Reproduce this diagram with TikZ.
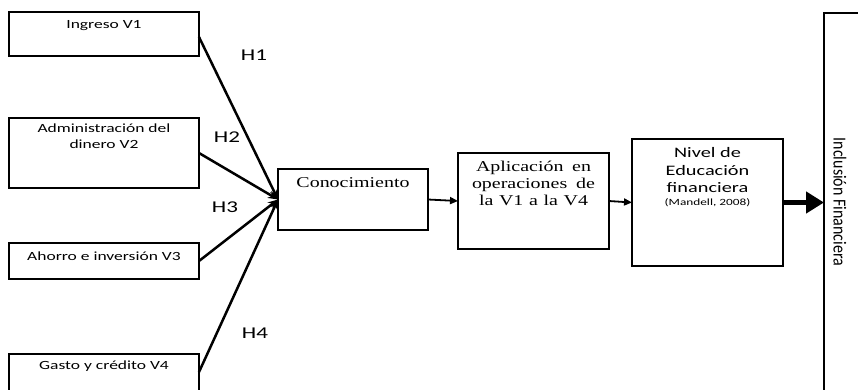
\documentclass[tikz,border=0pt]{standalone}
\usepackage{fontspec}
\setmainfont{Carlito}
\newfontfamily\sansw[FakeStretch=1.4]{Carlito}
\newfontfamily\serifw[FakeStretch=1.33]{Liberation Serif}
\usetikzlibrary{arrows.meta}
\begin{document}
\begin{tikzpicture}[x=1pt,y=-1pt,
  bx/.style={draw,line width=2.6pt,inner sep=0pt,outer sep=0pt,rectangle},
  sl/.style={font=\sansw\fontsize{12.5}{15}\selectfont,anchor=base,inner sep=0pt},
  hl/.style={font=\sansw\fontsize{16.5}{19}\selectfont,inner sep=0pt},
  tl/.style={font=\serifw\fontsize{15}{17}\selectfont,anchor=base,inner sep=0pt},
  nl/.style={font=\sansw\fontsize{14.5}{17}\selectfont,anchor=base,inner sep=0pt},
  hyp/.style={line width=2.5pt,-{Stealth[length=10pt,width=8pt]}},
  ar/.style={line width=1.8pt,-{Triangle[length=8pt,width=7pt]}},
  bigar/.style={line width=4.8pt,-{Triangle[length=18pt,width=21pt]}}]
\path[use as bounding box] (0,0) rectangle (858,389);
\clip (0,0) rectangle (858,389);
\fill[white] (0,0) rectangle (858,389);
% boxes
\node[bx,minimum width=190pt,minimum height=44pt] (ing) at (104,34) {};
\node[bx,minimum width=190pt,minimum height=70pt] (adm) at (104,153) {};
\node[bx,minimum width=190pt,minimum height=36pt] (aho) at (104,261) {};
\node[bx,minimum width=190pt,minimum height=40pt] (gas) at (104,374) {};
\node[bx,minimum width=150pt,minimum height=61pt] (con) at (353,199.5) {};
\node[bx,minimum width=151pt,minimum height=96pt] (apl) at (533.5,201) {};
\node[bx,minimum width=151pt,minimum height=127pt] (niv) at (707.5,202.5) {};
\node[bx,minimum width=76pt,minimum height=407pt] (inc) at (862,216.5) {};
% texts
\node[sl] (tIng) at (104,28) {Ingreso V1};
\node[sl] (tAdm1) at (104,132) {Administración del};
\node[sl] (tAdm2) at (104,148) {dinero V2};
\node[sl] (tAho) at (104,260) {Ahorro e inversión V3};
\node[sl] (tGas) at (104,369) {Gasto y crédito V4};
\node[tl] (tCon) at (353,187) {Conocimiento};
\node[tl] (tApl1) at (533.5,171) {\makebox[115pt][s]{Aplicación en}};
\node[tl] (tApl2) at (533.5,188) {\makebox[123pt][s]{operaciones de}};
\node[tl] (tApl3) at (533.5,205) {\makebox[109pt][s]{la V1 a la V4}};
\node[nl] (tNiv1) at (707.5,157) {Nivel de};
\node[nl] (tNiv2) at (707.5,175) {Educación};
\node[nl] (tNiv3) at (707.5,192) {financiera};
\node[font=\sansw\fontsize{9.5}{11}\selectfont,anchor=base,inner sep=0pt] (tMan) at (707.5,205) {(Mandell, 2008)};
\node[rotate=-90,font=\fontsize{16}{19}\selectfont,inner sep=0pt] (tInc) at (840,202) {\scalebox{1}[1.15]{Inclusión Financiera}};
% hypothesis labels
\node[hl] (h1) at (254,55) {H1};
\node[hl] (h2) at (227,137) {H2};
\node[hl] (h3) at (225,207) {H3};
\node[hl] (h4) at (255,333) {H4};
% connectors
\draw[hyp] ([yshift=-3pt]ing.east) -- (con.west);
\draw[hyp] (adm.east) -- (con.west);
\draw[hyp] (aho.east) -- (con.west);
\draw[hyp] ([yshift=2pt]gas.east) -- (con.west);
\draw[ar] (con.east) -- (apl.west);
\draw[ar] (apl.east) -- (niv.west);
\draw[bigar] (niv.east) -- (niv.east -| inc.west);
\end{tikzpicture}
\end{document}
